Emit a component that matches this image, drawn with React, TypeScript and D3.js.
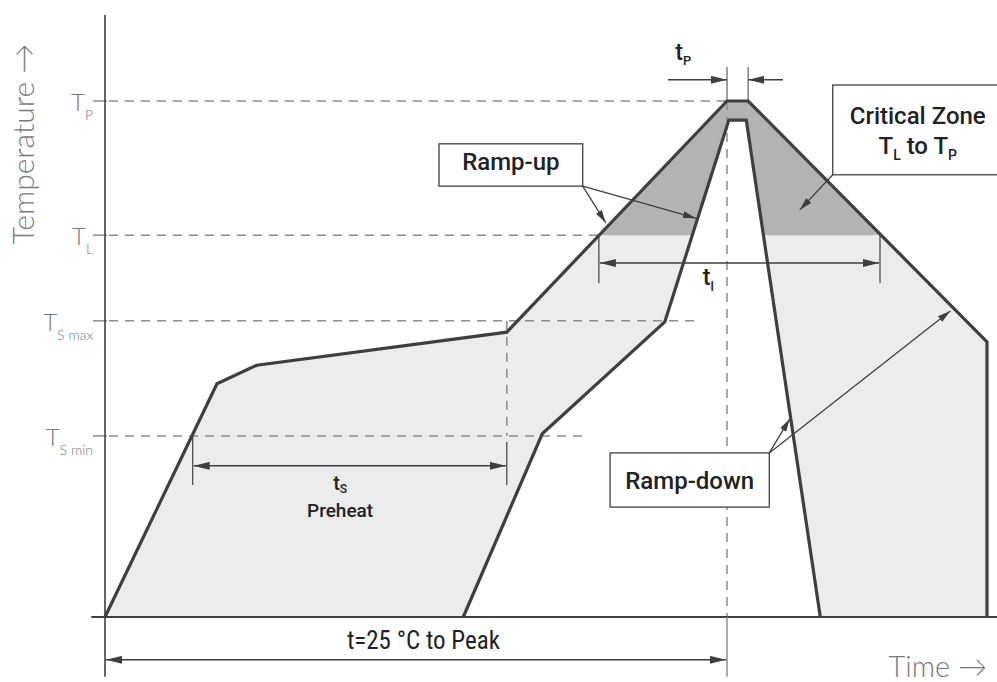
import React from "react";
import * as d3 from "d3";

const W = 997;
const H = 682;

// Relative units: time 0 = start at 25 °C, 100 = peak ; temperature 0 = 25 °C, 100 = T_P
const levelSubs = ["P", "L", "S max", "S min"];
const levelValues = [100, 74, 57.4, 35.1];
const levelDashEnd = [100, 79.4, 95.2, 77.2];

const outerProfile: [number, number][] = [
  [0, 0], [18, 45.2], [24.4, 48.8], [64.6, 55.2], [100, 100], [103.4, 100], [141.8, 53.3], [141.8, 0],
];
const innerProfile: [number, number][] = [
  [57.6, 0], [70.3, 35.5], [90, 57.2], [100.3, 96.3], [103.1, 96.3], [115, 0],
];

// annotation spans
const tsSpan = [14.1, 64.6];
const tsLevel = 29.3;
const tsTickBottom = 25.6;
const tsLabelX = 37.8;
const tlSpan = [79.4, 124.6];
const tlLevel = 68.6;
const tlTickBottom = 64.7;
const tlLabelX = 96.1;
const tpEdges = [100, 103.4];
const tpLevel = 104.1;
const tpTop = 106.6;
const tpOuter = [90.5, 109];
const tpLabelX = 91.7;
const totalSpan = [0, 100];
const totalLevel = -8.3;
const totalTickBottom = -11.6;
const totalLabelX = 51.2;

const rampUpBox = { x0: 53.7, x1: 76.8, y0: 91.7, y1: 83.5 };
const rampUpTips: [number, number][] = [[80.5, 76.4], [95.0, 77.3]];
const criticalBox = { x0: 117.0, x1: 144.2, y0: 103.1, y1: 85.7 };
const criticalTip: [number, number] = [111.7, 78.9];
const rampDownBox = { x0: 81.2, x1: 106.8, y0: 31.8, y1: 21.3 };
const rampDownTips: [number, number][] = [[110.1, 38.4], [135.9, 59.3]];

const x = d3.scaleLinear().domain([0, 100]).range([105, 727]);
const y = d3.scaleLinear().domain([0, 100]).range([617, 101]);

const lineGen = d3.line<[number, number]>().x((d) => x(d[0])).y((d) => y(d[1]));

const LINE = "#3f3f3f";
const DASH = "#8c8c8c";
const LIGHT = "#ececec";
const DARK = "#b3b3b3";
const AX_TEXT = "#7a7a7a";
const labelFont = "Roboto, 'Open Sans', sans-serif";
const lightFont = "Lato, 'Open Sans', sans-serif";

export default function App() {
  const area = [...outerProfile, ...[...innerProfile].reverse()];
  const areaPath = lineGen(area) + "Z";
  const TL = levelValues[1];

  const box = (b: { x0: number; x1: number; y0: number; y1: number }) => (
    <rect x={x(b.x0)} y={y(b.y0)} width={x(b.x1) - x(b.x0)} height={y(b.y1) - y(b.y0)}
      fill="#fff" stroke={LINE} strokeWidth={1.3} />
  );

  return (
    <svg width={W} height={H} style={{ position: "absolute", left: 0, top: 0, background: "#fff" }}>
      <defs>
        <marker id="ah" viewBox="0 0 16 8" refX="16" refY="4" markerWidth="16" markerHeight="8"
          markerUnits="userSpaceOnUse" orient="auto-start-reverse">
          <path d="M0,0L16,4L0,8Z" fill={LINE} />
        </marker>
        <marker id="ahs" viewBox="0 0 13 7" refX="13" refY="3.5" markerWidth="13" markerHeight="7"
          markerUnits="userSpaceOnUse" orient="auto-start-reverse">
          <path d="M0,0L13,3.5L0,7Z" fill={LINE} />
        </marker>
        <clipPath id="crit">
          <rect x={0} y={0} width={W} height={y(TL)} />
        </clipPath>
      </defs>

      {/* fills */}
      <path d={areaPath} fill={LIGHT} stroke="none" />
      <path d={areaPath} fill={DARK} stroke="none" clipPath="url(#crit)" />

      {/* level dashed lines + ticks */}
      {levelValues.map((v, i) => (
        <g key={i}>
          <line x1={x(0) - 12} x2={x(0) + 2} y1={y(v)} y2={y(v)} stroke={DASH} strokeWidth={1.5} />
          <line x1={x(0) + 4} x2={x(levelDashEnd[i])} y1={y(v)} y2={y(v)} stroke={DASH}
            strokeWidth={1.5} strokeDasharray="9,7" />
        </g>
      ))}

      {/* vertical dashed guides */}
      <line x1={x(100)} x2={x(100)} y1={y(100)} y2={y(0)} stroke={DASH} strokeWidth={1.5} strokeDasharray="9,7" />
      <line x1={x(64.6)} x2={x(64.6)} y1={y(57.4)} y2={y(35.1)} stroke={DASH} strokeWidth={1.5} strokeDasharray="9,7" />

      {/* profile strokes */}
      <path d={lineGen(outerProfile) || ""} fill="none" stroke={LINE} strokeWidth={3.2} strokeLinejoin="miter" />
      <path d={lineGen(innerProfile) || ""} fill="none" stroke={LINE} strokeWidth={3.2} strokeLinejoin="miter" />

      {/* axes */}
      <line x1={x(0)} x2={x(0)} y1={15} y2={y(totalTickBottom)} stroke={LINE} strokeWidth={1.6} />
      <line x1={x(-2.2)} x2={W} y1={y(0)} y2={y(0)} stroke={LINE} strokeWidth={1.8} />

      {/* ts span */}
      <line x1={x(tsSpan[0])} x2={x(tsSpan[0])} y1={y(levelValues[3])} y2={y(tsTickBottom)} stroke={LINE} strokeWidth={1.2} />
      <line x1={x(tsSpan[1])} x2={x(tsSpan[1])} y1={y(levelValues[3]) + 6} y2={y(tsTickBottom)} stroke={LINE} strokeWidth={1.2} />
      <line x1={x(tsSpan[0]) + 1} x2={x(tsSpan[1]) - 1} y1={y(tsLevel)} y2={y(tsLevel)} stroke={LINE}
        strokeWidth={1.5} markerStart="url(#ah)" markerEnd="url(#ah)" />
      <text x={x(tsLabelX)} y={y(tsLevel) + 24} textAnchor="middle" fontFamily={labelFont}
        fontWeight={500} fontSize={20} fill="#222">t<tspan fontSize={12} dy={3}>S</tspan></text>
      <text x={x(tsLabelX)} y={y(tsLevel) + 51} textAnchor="middle" fontFamily={labelFont}
        fontWeight={500} fontSize={19} fill="#222">Preheat</text>

      {/* tl span */}
      <line x1={x(tlSpan[0])} x2={x(tlSpan[0])} y1={y(TL)} y2={y(tlTickBottom)} stroke={LINE} strokeWidth={1.2} />
      <line x1={x(tlSpan[1])} x2={x(tlSpan[1])} y1={y(TL)} y2={y(tlTickBottom)} stroke={LINE} strokeWidth={1.2} />
      <line x1={x(tlSpan[0]) + 1} x2={x(tlSpan[1]) - 1} y1={y(tlLevel)} y2={y(tlLevel)} stroke={LINE}
        strokeWidth={1.5} markerStart="url(#ah)" markerEnd="url(#ah)" />
      <text x={x(tlLabelX)} y={y(tlLevel) + 22} fontFamily={labelFont}
        fontWeight={500} fontSize={23} fill="#222">t<tspan fontSize={13} dy={6}>l</tspan></text>

      {/* tp */}
      {tpEdges.map((e, i) => (
        <line key={i} x1={x(e)} x2={x(e)} y1={y(tpTop)} y2={y(100)} stroke={LINE} strokeWidth={1} />
      ))}
      <line x1={x(tpOuter[0])} x2={x(tpEdges[0])} y1={y(tpLevel)} y2={y(tpLevel)} stroke={LINE}
        strokeWidth={1.5} markerEnd="url(#ah)" />
      <line x1={x(tpOuter[1])} x2={x(tpEdges[1])} y1={y(tpLevel)} y2={y(tpLevel)} stroke={LINE}
        strokeWidth={1.5} markerEnd="url(#ah)" />
      <text x={x(tpLabelX)} y={y(tpLevel) - 20} fontFamily={labelFont}
        fontWeight={500} fontSize={23} fill="#222">t<tspan fontSize={13} dy={5}>P</tspan></text>

      {/* total span */}
      <line x1={x(100)} x2={x(100)} y1={y(0)} y2={y(totalTickBottom)} stroke={DASH} strokeWidth={1.5} />
      <line x1={x(totalSpan[0]) + 1} x2={x(totalSpan[1]) - 1} y1={y(totalLevel)} y2={y(totalLevel)} stroke={LINE}
        strokeWidth={1.5} markerStart="url(#ah)" markerEnd="url(#ah)" />
      <text x={x(totalLabelX)} y={y(totalLevel) - 11} textAnchor="middle"
        fontFamily="'Liberation Sans Narrow', 'Roboto Condensed', Roboto, sans-serif"
        fontWeight={400} fontSize={25} fill="#222">t=25 °C to Peak</text>

      {/* Ramp-up box */}
      {rampUpTips.map((t, i) => (
        <line key={i} x1={x(rampUpBox.x1)} y1={y(rampUpBox.y1)} x2={x(t[0])} y2={y(t[1])} stroke={LINE}
          strokeWidth={1.3} markerEnd="url(#ahs)" />
      ))}
      {box(rampUpBox)}
      <text x={(x(rampUpBox.x0) + x(rampUpBox.x1)) / 2} y={(y(rampUpBox.y0) + y(rampUpBox.y1)) / 2 + 5}
        textAnchor="middle" fontFamily={labelFont} fontWeight={500} fontSize={24} fill="#222">Ramp-up</text>

      {/* Critical zone */}
      <line x1={x(criticalBox.x0)} y1={y(criticalBox.y1)} x2={x(criticalTip[0])} y2={y(criticalTip[1])}
        stroke={LINE} strokeWidth={1.3} markerEnd="url(#ahs)" />
      {box(criticalBox)}
      <text x={x(criticalBox.x0) + 85} y={y(criticalBox.y0) + 39} textAnchor="middle" fontFamily={labelFont}
        fontWeight={500} fontSize={24} fill="#222">Critical Zone</text>
      <text x={x(criticalBox.x0) + 85} y={y(criticalBox.y0) + 69} textAnchor="middle" fontFamily={labelFont}
        fontWeight={500} fontSize={24} fill="#222">T<tspan fontSize={14} dy={6}>L</tspan><tspan dy={-6}> to T</tspan><tspan fontSize={14} dy={6}>P</tspan></text>

      {/* Ramp-down */}
      {rampDownTips.map((t, i) => (
        <line key={i} x1={x(rampDownBox.x1)} y1={y(rampDownBox.y0)} x2={x(t[0])} y2={y(t[1])} stroke={LINE}
          strokeWidth={1.3} markerEnd="url(#ahs)" />
      ))}
      {box(rampDownBox)}
      <text x={(x(rampDownBox.x0) + x(rampDownBox.x1)) / 2} y={(y(rampDownBox.y0) + y(rampDownBox.y1)) / 2 + 9}
        textAnchor="middle" fontFamily={labelFont} fontWeight={500} fontSize={24} fill="#222">Ramp-down</text>

      {/* y level labels */}
      {levelValues.map((v, i) => (
        <text key={i} x={x(0) - 12} y={y(v) + 10} textAnchor="end" fontFamily={lightFont} fontWeight={300}
          fontSize={24} fill={AX_TEXT}>T<tspan fontSize={14} dy={9}>{levelSubs[i]}</tspan></text>
      ))}

      {/* axis titles */}
      <text transform={`translate(34,${144}) rotate(-90)`} textAnchor="middle" fontFamily={lightFont}
        fontWeight={300} fontSize={30} fill={AX_TEXT}>Temperature →</text>
      <text x={987} y={677} textAnchor="end" fontFamily={lightFont} fontWeight={300} fontSize={29}
        fill={AX_TEXT}>Time →</text>
    </svg>
  );
}
